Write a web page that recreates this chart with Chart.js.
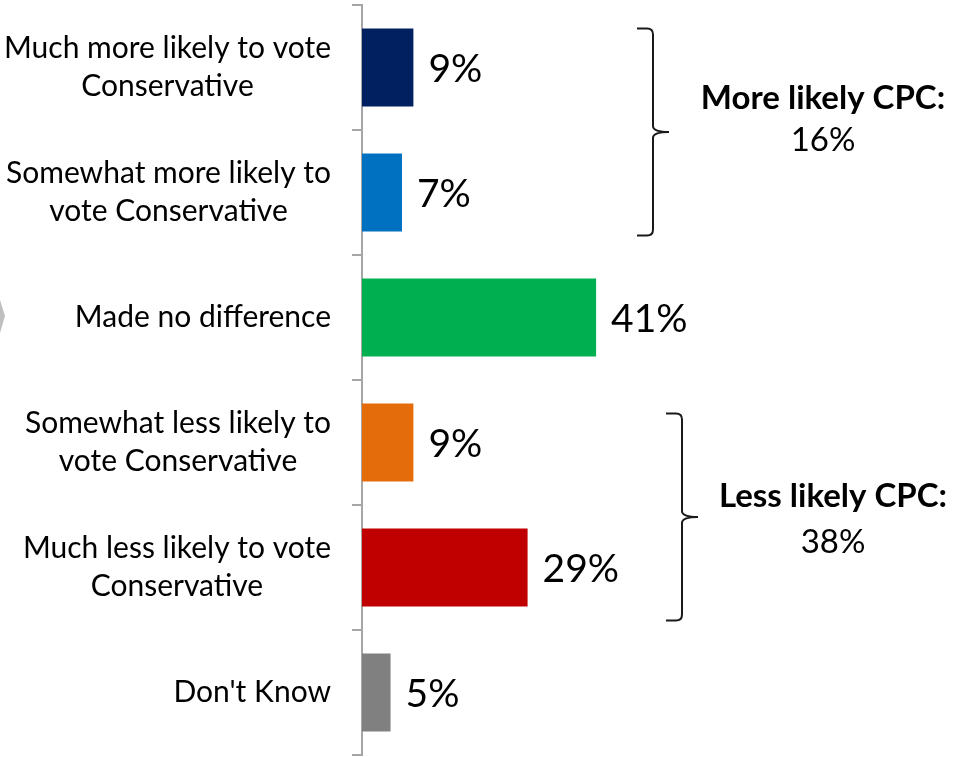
<!DOCTYPE html>
<html>
<head>
<meta charset="utf-8">
<script src="https://cdn.jsdelivr.net/npm/chart.js@4/dist/chart.umd.min.js"></script>
<style>
  html, body { margin: 0; padding: 0; background: #fff; }
  #wrap { width: 961px; height: 757px; position: relative; }
</style>
</head>
<body>
<div id="wrap"><canvas id="myChart"></canvas></div>
<script>
'use strict';
// data
let categories = [
  ['Much more likely to vote', 'Conservative'],
  ['Somewhat more likely to', 'vote Conservative'],
  ['Made no difference'],
  ['Somewhat less likely to', 'vote Conservative'],
  ['Much less likely to vote', 'Conservative'],
  ['Don\'t Know']
];
let values = [9, 7, 41, 9, 29, 5];
let barColors = ['#002060', '#0070C0', '#00B050', '#E46C0A', '#C00000', '#808080'];
let groupNames = ['More likely CPC:', 'Less likely CPC:'];
let groupBars = [[0, 1], [3, 4]];

let fontName = 'Lato, "Open Sans", sans-serif';
let axisGray = '#A6A6A6';

// brackets + side text placement
let bracketX = [653, 682];
let bracketShift = [[0, 4], [10, 14]];
let groupTextX = [823, 833];
let groupTextDy = [[-34, 8], [-21, 25]];

function drawBrace(ctx, x, top, bottom) {
  let mid = (top + bottom) / 2;
  let w = 16;
  let r = 6;
  ctx.beginPath();
  ctx.moveTo(x - w, top);
  ctx.lineTo(x - r, top);
  ctx.quadraticCurveTo(x, top, x, top + r);
  ctx.lineTo(x, mid - r);
  ctx.quadraticCurveTo(x, mid, x + w, mid);
  ctx.moveTo(x + w, mid);
  ctx.quadraticCurveTo(x, mid, x, mid + r);
  ctx.lineTo(x, bottom - r);
  ctx.quadraticCurveTo(x, bottom, x - r, bottom);
  ctx.lineTo(x - w, bottom);
  ctx.stroke();
}

let extras = {
  id: 'extras',
  afterDatasetsDraw(chart) {
    let ctx = chart.ctx;
    let meta = chart.getDatasetMeta(0);
    let yScale = chart.scales.y;
    ctx.save();

    // category labels
    ctx.fillStyle = '#000';
    ctx.font = '30px ' + fontName;
    ctx.textAlign = 'center';
    ctx.textBaseline = 'middle';
    let lineH = 38;
    for (let i = 0; i < categories.length; i++) {
      let lines = categories[i];
      let w = 0;
      lines.forEach(function (l) { w = Math.max(w, ctx.measureText(l).width); });
      let cx = 331 - w / 2;
      let cy = yScale.getPixelForValue(i);
      for (let j = 0; j < lines.length; j++) {
        ctx.fillText(lines[j], cx, cy + (j - (lines.length - 1) / 2) * lineH);
      }
    }

    // value labels
    ctx.font = '39px ' + fontName;
    ctx.textAlign = 'left';
    for (let i = 0; i < meta.data.length; i++) {
      let bar = meta.data[i];
      ctx.fillText(values[i] + '%', bar.x + 15, bar.y + 2);
    }

    // brackets
    ctx.strokeStyle = '#1a1a1a';
    ctx.lineWidth = 2;
    for (let g = 0; g < groupBars.length; g++) {
      let first = meta.data[groupBars[g][0]];
      let last = meta.data[groupBars[g][1]];
      let top = first.y - first.height / 2 + bracketShift[g][0];
      let bottom = last.y + last.height / 2 + bracketShift[g][1];
      drawBrace(ctx, bracketX[g], top, bottom);
      let mid = (top + bottom) / 2;
      let total = 0;
      groupBars[g].forEach(function (k) { total += values[k]; });
      ctx.textAlign = 'center';
      ctx.font = 'bold 33px ' + fontName;
      ctx.fillText(groupNames[g], groupTextX[g], mid + groupTextDy[g][0]);
      ctx.font = '33px ' + fontName;
      ctx.fillText(total + '%', groupTextX[g], mid + groupTextDy[g][1]);
    }

    // little gray arrow cut off at the left edge
    ctx.fillStyle = '#BFBFBF';
    ctx.beginPath();
    ctx.moveTo(0, 300);
    ctx.lineTo(5, 316);
    ctx.lineTo(0, 333);
    ctx.closePath();
    ctx.fill();

    ctx.restore();
  }
};

let ctx = document.getElementById('myChart').getContext('2d');
let myChart = new Chart(ctx, {
  type: 'bar',
  data: {
    labels: categories,
    datasets: [{
      data: values,
      backgroundColor: barColors,
      borderWidth: 0,
      categoryPercentage: 1,
      barPercentage: 0.624
    }]
  },
  options: {
    indexAxis: 'y',
    responsive: true,
    maintainAspectRatio: false,
    animation: false,
    layout: { padding: { top: 5, bottom: 2, left: 0, right: 28 } },
    plugins: {
      legend: { display: false },
      tooltip: { enabled: false }
    },
    scales: {
      x: {
        display: false,
        min: 0,
        max: 100
      },
      y: {
        ticks: { display: false },
        afterFit: function (scale) { scale.width = 362; },
        border: { display: true, color: axisGray, width: 2 },
        grid: {
          offset: true,
          drawOnChartArea: false,
          drawTicks: true,
          tickLength: 10,
          color: axisGray,
          lineWidth: 2
        }
      }
    }
  },
  plugins: [extras]
});
</script>
</body>
</html>
